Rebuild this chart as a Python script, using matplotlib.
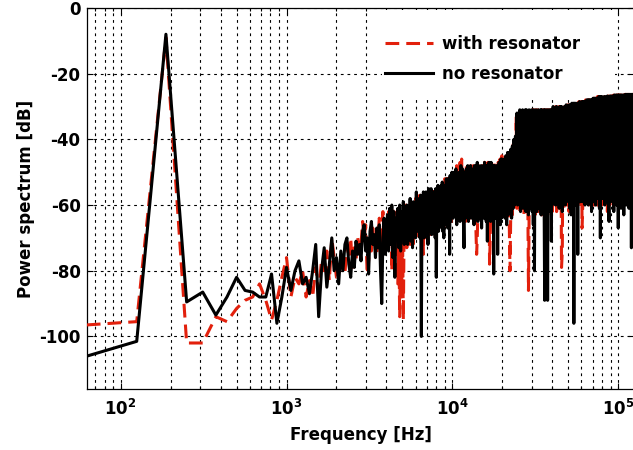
import numpy as np
import matplotlib
matplotlib.use("Agg")
import matplotlib.pyplot as plt
from matplotlib.patches import Rectangle

plt.rcParams["font.family"] = ["DejaVu Sans"]
plt.rcParams["font.weight"] = "bold"
plt.rcParams["mathtext.default"] = "bf"
plt.rcParams["axes.unicode_minus"] = False

# ---------------------------------------------------------
# Spectrum data (FFT bins, df = 62.5 Hz, subsampled at high f)
# ---------------------------------------------------------

# (start, stop, step) of each frequency segment in Hz
freq_segments = [
    (62.5, 2000.0, 62.5),
    (2062.5, 4000.0, 62.5),
    (4062.5, 10000.0, 62.5),
    (10125.0, 20000.0, 125.0),
    (20250.0, 40000.0, 250.0),
    (40500.0, 80000.0, 500.0),
    (81000.0, 124000.0, 1000.0),
]

no_res_a = [-106, -101.5, -8, -89.5, -86.5, -93.5, -88, -82, -86, -86.5,
            -88, -88, -81, -96, -88, -79, -86, -80, -77, -84, -82, -87,
            -80, -72, -94, -80, -73, -85, -78, -70, -80, -76]
with_res_a = [-96.5, -95.5, -9, -102, -102, -94, -95.5, -91.5, -89, -88,
              -84, -89, -95, -89, -82, -76, -88, -82, -84, -80, -88, -83,
              -88, -79, -86, -77, -80, -74, -83, -70, -76, -82]

no_res_b1 = [-84, -74, -80, -72, -70, -78, -82, -74, -79, -71, -75, -72,
             -77, -68, -66, -74, -70, -81, -68, -65, -72, -69, -76, -67,
             -73, -66, -80, -90, -70, -64, -75, -68]
with_res_b1 = [-82, -78, -75, -81, -72, -76, -70, -79, -73, -77, -70, -74,
               -72, -65, -70, -66, -81, -77, -70, -74, -67, -72, -68, -75,
               -70, -64, -72, -67, -62, -70, -66, -73]

no_res_b2 = [-63, -74, -61, -72, -60, -76, -62, -82, -64, -70, -61, -73,
             -60, -74, -62, -70, -59, -72, -61, -69, -60, -72, -62, -68,
             -58, -71, -60, -73, -59, -69, -62, -70, -56, -68, -58, -66,
             -60, -70, -57, -100, -58, -69, -56, -70, -58, -67, -56, -66,
             -59, -72, -55, -68, -57, -64, -55, -69, -58, -68, -56, -66,
             -56, -70, -55, -82, -57, -66, -54, -68, -56, -66, -57, -65,
             -54, -67, -53, -68, -55, -70, -54, -66, -55, -64, -52, -66,
             -53, -67, -52, -66, -54, -75, -51, -65, -52, -64, -50, -63]
with_res_b2 = [-70, -62, -72, -63, -80, -61, -69, -66, -73, -62, -84, -70,
               -94, -70, -88, -66, -95, -62, -72, -60, -73, -63, -70, -61,
               -72, -60, -70, -62, -73, -60, -66, -58, -70, -57, -67, -59,
               -68, -57, -69, -60, -66, -57, -75, -58, -70, -57, -67, -58,
               -68, -56, -67, -58, -69, -55, -66, -57, -68, -56, -66, -55,
               -69, -56, -67, -55, -66, -57, -68, -54, -65, -56, -67, -54,
               -66, -53, -67, -55, -68, -54, -65, -52, -66, -54, -64, -52,
               -67, -52, -65, -53, -66, -51, -64, -52, -66, -51, -63, -52]

no_res_c1 = [-64, -50, -63, -49, -66, -51, -62, -50, -65, -48,
             -63, -49, -62, -73, -50, -64, -49, -62, -48, -65,
             -50, -63, -48, -64, -49, -61, -50, -66, -48, -63,
             -49, -62, -47, -65, -48, -64, -49, -61, -48, -67,
             -49, -62, -48, -64, -47, -63, -49, -65, -48, -71,
             -48, -63, -47, -62, -49, -65, -47, -64, -49, -62,
             -48, -81, -48, -63, -49, -64, -48, -62, -49, -75,
             -48, -63, -47, -62, -48, -66, -46, -64, -46, -62]
with_res_c1 = [-51, -62, -49, -63, -48, -61, -50, -64, -47, -62,
               -46, -63, -49, -62, -50, -65, -48, -63, -49, -62,
               -49, -64, -48, -62, -50, -63, -48, -61, -49, -64,
               -68, -75, -70, -62, -48, -63, -49, -61, -48, -64,
               -48, -62, -49, -63, -47, -65, -48, -62, -49, -63,
               -47, -64, -48, -78, -72, -63, -48, -62, -49, -63,
               -48, -62, -47, -64, -48, -63, -47, -61, -48, -63,
               -47, -62, -46, -64, -46, -61, -47, -63, -45, -62]

no_res_c2 = [-62, -46, -64, -45, -66, -44, -63, -44, -62, -43,
             -64, -42, -61, -40, -60, -39, -58, -32, -60, -32,
             -59, -31, -62, -32, -60, -31, -61, -32, -58, -31,
             -62, -31, -60, -32, -63, -31, -59, -32, -61, -31,
             -62, -32, -66, -31, -80, -32, -60, -31, -62, -32,
             -59, -31, -61, -32, -60, -31, -63, -31, -58, -32,
             -61, -31, -60, -89, -31, -62, -32, -59, -31, -89,
             -32, -62, -31, -60, -32, -61, -31, -71, -31, -60]
with_res_c2 = [-47, -63, -46, -65, -45, -62, -44, -64, -80, -62,
               -43, -63, -41, -60, -40, -58, -33, -61, -33, -60,
               -32, -62, -31, -59, -32, -61, -31, -63, -32, -60,
               -31, -62, -32, -60, -86, -64, -32, -61, -31, -59,
               -32, -62, -31, -60, -32, -63, -31, -61, -32, -59,
               -31, -62, -32, -60, -31, -61, -32, -63, -31, -60,
               -32, -61, -31, -62, -32, -60, -31, -63, -32, -61,
               -31, -62, -32, -60, -31, -61, -32, -63, -31, -62]

no_res_c3 = [-30, -59, -31, -60, -30, -58, -31, -61, -30, -57,
             -30, -62, -31, -58, -30, -60, -29.5, -57, -30, -59,
             -29.5, -61, -29.5, -63, -29, -58, -29, -96, -29, -60,
             -29, -58, -29, -75, -29, -57, -28.5, -59, -29, -56,
             -28.5, -59, -28.5, -57, -28.5, -60, -28.5, -55, -28, -58,
             -28, -60, -28, -56, -28, -59, -28, -62, -28, -57,
             -27.5, -59, -27.5, -57, -27.5, -60, -27.5, -56, -27.5, -58,
             -27.5, -56, -27, -61, -27, -70, -27, -58, -27, -57]
with_res_c3 = [-58, -31, -60, -30, -62, -31, -59, -30, -61, -30,
               -79, -74, -30, -61, -30, -58, -30, -60, -29.5, -58,
               -62, -29.5, -57, -29.5, -60, -29, -58, -29, -61, -29,
               -57, -29, -60, -29, -56, -28.5, -59, -29, -61, -28.5,
               -67, -62, -28.5, -58, -28.5, -57, -28, -60, -28.5, -55,
               -59, -28, -57, -28, -61, -28, -56, -28, -59, -27.5,
               -57, -27.5, -60, -27.5, -55, -27.5, -59, -27.5, -57, -27,
               -61, -27, -56, -27, -59, -27, -58, -27, -60, -26.8]

no_res_c4 = [-58, -27, -60, -27, -59, -26.8, -57, -65, -26.8, -59,
             -26.8, -58, -26.8, -62, -26.5, -57, -26.5, -60, -26.5, -67,
             -26.5, -59, -26.5, -61, -26.5, -58, -26.5, -63, -26.5, -57,
             -26.3, -60, -26.3, -58, -26.3, -61, -26.3, -59, -26.3, -73,
             -26.3, -60, -26.3, -58]
with_res_c4 = [-27, -60, -27, -58, -27, -62, -26.8, -57, -60, -26.8,
               -58, -26.8, -54, -26.5, -60, -26.5, -57, -26.5, -59, -26.5,
               -61, -26.5, -57, -26.5, -60, -26.5, -56, -26.5, -59, -26.3,
               -58, -26.3, -61, -26.3, -57, -26.3, -60, -26.3, -58, -26.3,
               -62, -26.3, -59, -26.3]

freq = np.concatenate([np.arange(a, b + s / 2, s) for a, b, s in freq_segments])
no_res = np.array(no_res_a + no_res_b1 + no_res_b2 + no_res_c1
                  + no_res_c2 + no_res_c3 + no_res_c4)
with_res = np.array(with_res_a + with_res_b1 + with_res_b2 + with_res_c1
                    + with_res_c2 + with_res_c3 + with_res_c4)

y_ticks = [0, -20, -40, -60, -80, -100]
x_ticks = [1e2, 1e3, 1e4, 1e5]
x_tick_labels = [r"$10^{2}$", r"$10^{3}$", r"$10^{4}$", r"$10^{5}$"]

# ---------------------------------------------------------
# Plot
# ---------------------------------------------------------

fig = plt.figure(figsize=(6.33, 4.5), dpi=100)
ax = fig.add_axes([0.1371, 0.1356, 0.865, 0.8467])

red = "#e2200c"

ax.semilogx(freq, with_res, color=red, linestyle=(0, (4.5, 2.3)),
            linewidth=2.2, label="with resonator", zorder=3)
ax.semilogx(freq, no_res, color="black", linewidth=2.2,
            label="no resonator", zorder=4)

ax.set_xlim(62.5, 125000)
ax.set_ylim(-116, 0)

ax.set_xticks(x_ticks)
ax.set_xticklabels(x_tick_labels)
ax.set_yticks(y_ticks)

grid_style = dict(color="black", linestyle=(0, (2.5, 3.5)), linewidth=0.8)
ax.grid(True, which="major", axis="both", **grid_style)
ax.grid(True, which="minor", axis="x", **grid_style)

ax.tick_params(axis="both", which="both", direction="in",
               top=True, right=True, labelsize=12, width=0.8)
ax.tick_params(axis="both", which="major", length=4, pad=4.5)
ax.tick_params(axis="x", which="minor", length=2)
ax.tick_params(axis="x", which="major", pad=7)

for spine in ax.spines.values():
    spine.set_linewidth(0.9)

ax.set_xlabel("Frequency [Hz]", fontsize=12, fontweight="bold", labelpad=5)
ax.set_ylabel("Power spectrum [dB]", fontsize=12, fontweight="bold",
              labelpad=3)

# white legend box (hides the grid behind the legend, as in MATLAB)
ax.add_patch(Rectangle((0.539, 0.766), 0.4255, 0.229,
                       transform=ax.transAxes, facecolor="white",
                       edgecolor="none", zorder=2.5))

ax.legend(loc="upper left", bbox_to_anchor=(0.5446, 0.93), frameon=False,
          fontsize=12, handlelength=2.9, handletextpad=0.5,
          labelspacing=0.74, borderpad=0, borderaxespad=0)

fig.savefig("out.png", dpi=100)
